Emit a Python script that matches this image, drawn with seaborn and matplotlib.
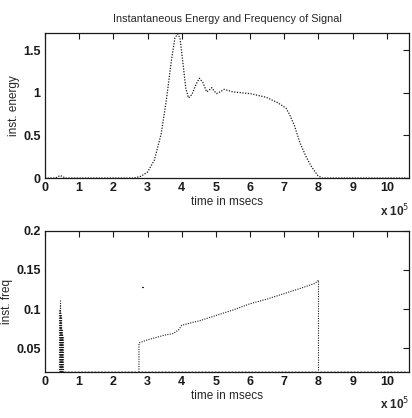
import numpy as np
import pandas as pd
import matplotlib
matplotlib.use("Agg")
import matplotlib.pyplot as plt
from matplotlib.ticker import FuncFormatter
import seaborn as sns

# energy curve, time in units of 1e5 msecs
energy_t = [0.0, 0.3, 0.45, 0.6, 1.0, 2.0, 2.6, 2.8, 3.0, 3.2, 3.4, 3.55, 3.7, 3.8,
            3.88, 3.95, 4.05, 4.12, 4.2, 4.3, 4.42, 4.52, 4.62, 4.73, 4.8, 4.88,
            4.95, 5.02, 5.12, 5.24, 5.5, 6.0, 6.48, 6.82, 7.05, 7.16, 7.3, 7.46,
            7.65, 7.8, 7.98, 8.1, 9.0, 10.6]
energy_v = [0.0, 0.0, 0.03, 0.0, 0.0, 0.0, 0.0, 0.02, 0.07, 0.21, 0.52, 0.91, 1.38, 1.64,
            1.69, 1.64, 1.3, 1.05, 0.94, 0.98, 1.1, 1.17, 1.12, 1.01, 1.03, 1.06,
            1.02, 0.99, 1.01, 1.04, 1.01, 0.99, 0.946, 0.88, 0.82, 0.74, 0.61, 0.41,
            0.24, 0.13, 0.03, 0.0, 0.0, 0.0]

# instantaneous frequency, drawn as separate segments
cluster_x = [0.42, 0.43, 0.44, 0.45, 0.46, 0.47, 0.48, 0.49, 0.50, 0.51, 0.52]
cluster_top = [0.10, 0.112, 0.105, 0.098, 0.095, 0.09, 0.082, 0.075, 0.07, 0.068, 0.066]
ramp_t = [2.75, 3.0, 3.5, 3.75, 3.85, 3.9, 4.0, 4.3, 4.5, 5.0, 5.5, 6.0, 6.5, 7.0, 7.5, 7.9, 8.0]
ramp_f = [0.057, 0.061, 0.067, 0.069, 0.072, 0.073, 0.0795, 0.083, 0.085, 0.092, 0.099,
          0.107, 0.113, 0.12, 0.127, 0.133, 0.137]
base_t = [0.55, 2.7, 2.8, 7.95, 8.05, 10.6]
base_f = [0.021, 0.021, 0.021, 0.021, 0.021, 0.021]
stray_t = [2.83, 2.88]
stray_f = [0.128, 0.128]

sns.set_theme(style="white")
plt.rcParams['font.family'] = ['Liberation Sans', 'DejaVu Sans']
plt.rcParams['xtick.direction'] = 'in'
plt.rcParams['ytick.direction'] = 'in'

fig = plt.figure(figsize=(4.12, 4.18), dpi=100)
ax1 = fig.add_axes([0.109, 0.574, 0.884, 0.347])
ax2 = fig.add_axes([0.109, 0.110, 0.884, 0.338])

scale = 1e5
sns.lineplot(x=np.array(energy_t) * scale, y=energy_v, ax=ax1, color='k',
             linewidth=0.9, linestyle=(0, (1, 1.2)), sort=False, estimator=None)

rows = []
for i, (cx, ct) in enumerate(zip(cluster_x, cluster_top)):
    rows.append({"t": cx * scale, "f": 0.02, "seg": f"c{i}"})
    rows.append({"t": cx * scale, "f": ct, "seg": f"c{i}"})
rows.append({"t": 2.75 * scale, "f": 0.02, "seg": "up"})
for t, f in zip(ramp_t, ramp_f):
    rows.append({"t": t * scale, "f": f, "seg": "up"})
rows.append({"t": 8.0 * scale, "f": 0.02, "seg": "up"})
df = pd.DataFrame(rows)

base_rows = []
for k in range(0, len(base_t), 2):
    base_rows.append({"t": base_t[k] * scale, "f": base_f[k], "seg": f"b{k}"})
    base_rows.append({"t": base_t[k + 1] * scale, "f": base_f[k + 1], "seg": f"b{k}"})
df_base = pd.DataFrame(base_rows)

sns.lineplot(data=df, x="t", y="f", units="seg", estimator=None, sort=False,
             color='k', linewidth=0.8, linestyle=(0, (1, 1.2)), ax=ax2)
sns.lineplot(data=df_base, x="t", y="f", units="seg", estimator=None, sort=False,
             color='k', linewidth=0.6, alpha=0.45, linestyle=(0, (2, 2)), ax=ax2)
sns.lineplot(x=np.array(stray_t) * scale, y=stray_f, ax=ax2, color='k',
             linewidth=0.9, estimator=None)

fmt = FuncFormatter(lambda v, p: f"{v / scale:g}")
for ax in (ax1, ax2):
    ax.set_xlim(0, 10.65e5)
    ax.set_xticks(np.arange(0, 11) * scale)
    ax.xaxis.set_major_formatter(fmt)
    ax.tick_params(axis='both', which='both', top=True, right=True, length=4,
                   width=0.8, labelsize=9, pad=3, colors='k')
    for lab in ax.get_xticklabels() + ax.get_yticklabels():
        lab.set_fontweight('bold')
    for sp in ax.spines.values():
        sp.set_color('k')
        sp.set_linewidth(0.9)
    ax.set_xlabel("time in msecs", fontsize=8.5, labelpad=1)
    ax.text(1.0, -0.17, r"x 10$^5$", transform=ax.transAxes, ha='right', va='top',
            fontsize=8.5, fontweight='bold')

ax1.set_ylim(0, 1.7)
ax1.set_yticks([0, 0.5, 1, 1.5])
ax1.yaxis.set_major_formatter(FuncFormatter(lambda v, p: f"{v:g}"))
for lab in ax1.get_yticklabels():
    lab.set_fontweight('bold')
ax1.set_ylabel("inst. energy", fontsize=8.5, labelpad=2)
ax1.set_title("Instantaneous Energy and Frequency of Signal", fontsize=7.8, pad=8)

ax2.set_ylim(0.02, 0.2)
ax2.set_yticks([0.05, 0.1, 0.15, 0.2])
ax2.yaxis.set_major_formatter(FuncFormatter(lambda v, p: f"{v:g}"))
for lab in ax2.get_yticklabels():
    lab.set_fontweight('bold')
ax2.set_ylabel("inst. freq", fontsize=8.5, labelpad=2)

fig.savefig("out.png", dpi=100)
